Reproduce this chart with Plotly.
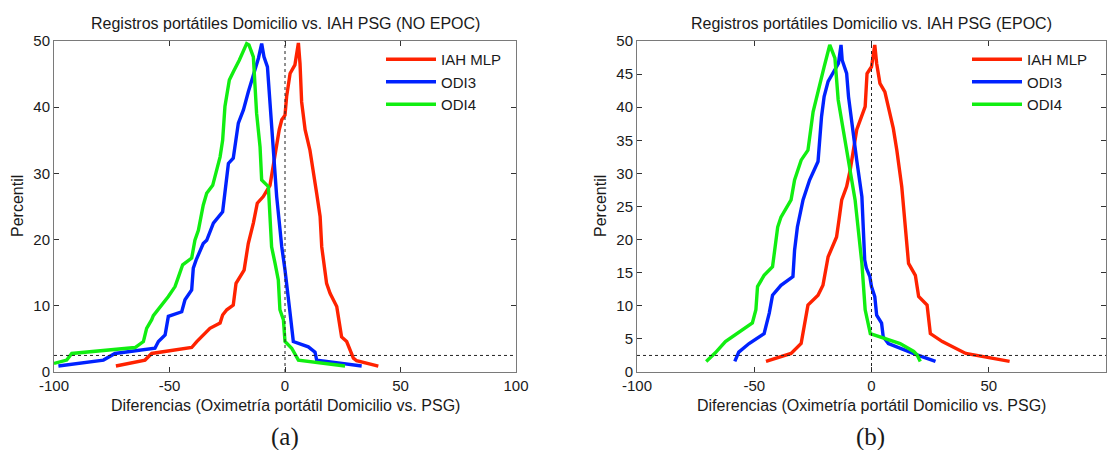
import plotly.graph_objects as go

# ---- Panel (a): NO EPOC ----
a_mlp_x = [-73.2, -60.6, -57.7, -40.4, -38.2, -32.5, -28.1, -27.0, -25.2, -22.4, -21.2, -19.5, -17.7,
           -15.9, -13.7, -12.0, -9.4, -6.5, -5.1, -2.5, -1.4, 0.0, 0.7, 2.2, 4.3, 5.8, 6.5, 7.2, 8.7,
           10.8, 13.7, 15.2, 15.9, 18.0, 19.5, 22.4, 24.5, 26.7, 29.6, 31.0, 40.4]
a_mlp_y = [0.9, 1.8, 2.8, 3.7, 4.6, 6.6, 7.4, 8.6, 9.4, 10.1, 13.4, 14.4, 15.4,
           19.4, 22.5, 25.5, 26.5, 28.2, 31.3, 36.6, 38.1, 38.8, 41.6, 45.1, 46.4, 49.7, 46.6, 40.8, 36.6,
           33.5, 27.0, 23.5, 18.9, 13.4, 11.9, 9.9, 5.3, 4.6, 2.1, 1.7, 0.9]

a_odi3_x = [-98.1, -78.6, -73.6, -56.3, -54.8, -51.9, -50.5, -44.7, -43.3, -40.4, -39.7, -38.5, -35.4,
            -33.9, -31.0, -27.0, -24.5, -22.4, -20.2, -18.0, -15.9, -11.5, -10.1, -9.1, -7.6, -5.8,
            -3.6, -1.4, 0.0, 2.2, 3.6, 10.1, 13.0, 13.7, 33.2]
a_odi3_y = [0.9, 1.8, 2.8, 3.6, 4.6, 5.6, 8.4, 9.1, 10.9, 12.4, 15.7, 16.9, 19.4,
            19.9, 22.5, 24.2, 31.5, 32.3, 37.6, 39.6, 42.3, 47.4, 49.6, 47.6, 46.1, 36.6,
            26.5, 18.9, 15.4, 8.9, 4.6, 3.8, 3.0, 1.8, 0.9]

a_odi4_x = [-100.0, -94.5, -92.3, -64.9, -61.3, -59.9, -57.7, -57.0, -50.5, -47.6, -46.2, -44.3, -40.4,
            -39.0, -37.5, -35.4, -33.9, -31.3, -28.1, -27.0, -26.0, -24.1, -22.3, -19.8, -16.6, -15.6,
            -13.7, -12.3, -10.8, -10.1, -7.2, -5.8, -4.3, -2.9, -2.2, -0.7, 0.0, 2.9, 5.8, 26.0]
a_odi4_y = [1.3, 1.8, 2.8, 3.7, 4.6, 6.6, 7.9, 8.5, 11.4, 12.9, 14.3, 16.2, 17.2,
            19.9, 21.4, 25.2, 27.0, 28.2, 32.5, 35.0, 40.1, 44.1, 45.4, 47.1, 49.6, 49.4,
            47.6, 39.1, 34.0, 29.0, 28.0, 18.9, 16.4, 13.9, 9.4, 7.9, 4.6, 3.6, 1.8, 0.9]

# ---- Panel (b): EPOC ----
b_mlp_x = [-45.0, -34.3, -30.0, -28.9, -27.1, -22.8, -20.7, -18.5, -14.9, -13.9, -12.7, -10.6, -9.1,
           -6.3, -4.8, -2.7, -1.9, 0.0, 1.4, 2.2, 3.6, 5.7, 9.3, 10.8, 12.9, 14.4, 15.8, 18.7, 20.1,
           23.7, 25.1, 30.2, 40.2, 58.9]
b_mlp_y = [1.6, 2.8, 4.3, 6.3, 10.1, 11.6, 13.1, 17.4, 20.4, 22.9, 26.0, 28.0, 30.5,
           36.6, 38.1, 40.1, 45.1, 46.1, 49.4, 46.6, 43.6, 42.3, 36.8, 33.5, 28.0, 22.5, 16.4, 14.6, 11.4,
           10.1, 5.8, 4.6, 2.8, 1.6]

b_odi3_x = [-58.3, -56.6, -52.2, -45.8, -43.6, -42.2, -38.6, -33.5, -32.8, -31.6, -29.2, -26.4, -22.8,
            -21.3, -20.2, -18.5, -14.1, -13.0, -12.5, -10.6, -9.8, -8.4, -6.3, -4.1, -2.9, -2.2,
            -0.7, 0.0, 1.4, 2.2, 4.3, 5.0, 7.2, 19.4, 27.3]
b_odi3_y = [1.6, 3.0, 4.3, 5.8, 8.9, 11.6, 13.1, 14.4, 18.4, 21.9, 26.0, 29.0, 31.8,
            38.6, 41.6, 43.9, 46.6, 49.4, 47.1, 45.1, 41.6, 37.6, 32.0, 26.5, 16.9, 15.7,
            14.4, 12.9, 11.4, 8.6, 7.4, 5.3, 4.3, 2.6, 1.6]

b_odi4_x = [-70.5, -66.6, -62.3, -50.8, -49.3, -48.6, -45.8, -42.2, -40.0, -38.6, -34.3, -32.8, -30.0,
            -27.1, -24.9, -22.1, -20.2, -17.8, -15.6, -14.2, -12.0, -9.8, -7.0, -4.1, -2.7, -0.5,
            12.2, 18.0, 19.4, 20.8]
b_odi4_y = [1.6, 2.9, 4.6, 7.4, 9.4, 12.9, 14.6, 15.9, 21.9, 23.4, 26.0, 29.0, 32.0,
            33.5, 39.3, 43.6, 46.1, 49.4, 47.4, 41.1, 36.6, 32.0, 26.0, 16.4, 9.4, 5.8,
            4.3, 3.1, 2.6, 1.6]

series_names = ["IAH MLP", "ODI3", "ODI4"]
series_colors = ["#ff2200", "#0022ff", "#11ee11"]

titles = ["Registros portátiles Domicilio vs. IAH PSG (NO EPOC)",
          "Registros portátiles Domicilio vs. IAH PSG (EPOC)"]
x_title = "Diferencias (Oximetría portátil Domicilio vs. PSG)"
y_title = "Percentil"
panel_tags = ["(a)", "(b)"]

x_ticks = [-100, -50, 0, 50, 100]
x_tick_text = ["-100", "-50", "0", "50", "100"]
y_ticks_a = [0, 10, 20, 30, 40, 50]
y_ticks_b = [0, 5, 10, 15, 20, 25, 30, 35, 40, 45, 50]

W, H = 1118, 450
FONT = "Liberation Sans, Arial, sans-serif"

fig = go.Figure()

panels = [
    ("x", "y", "legend", [(a_mlp_x, a_mlp_y), (a_odi3_x, a_odi3_y), (a_odi4_x, a_odi4_y)]),
    ("x2", "y2", "legend2", [(b_mlp_x, b_mlp_y), (b_odi3_x, b_odi3_y), (b_odi4_x, b_odi4_y)]),
]
for xa, ya, leg, data in panels:
    for (xs, ys), name, col in zip(data, series_names, series_colors):
        fig.add_trace(go.Scatter(x=xs, y=ys, mode="lines", name=name, xaxis=xa, yaxis=ya,
                                 legend=leg, line=dict(color=col, width=3.4)))

# axis boxes in pixel positions
box_a = (54, 516)
box_b = (637, 1106)
top_px, bot_px = 41, 372
ydom = [(H - bot_px) / H, (H - top_px) / H]

axis_common = dict(showgrid=False, zeroline=False, showline=True, linecolor="#7a7a7a",
                   linewidth=1, mirror="allticks", ticks="inside", ticklen=5,
                   tickcolor="#333333", tickfont=dict(family=FONT, size=15, color="#1a1a1a"),
                   automargin=False)

legend_common = dict(yanchor="top", xanchor="left", bgcolor="rgba(0,0,0,0)",
                     font=dict(family=FONT, size=15, color="#1a1a1a"), itemwidth=50,
                     tracegroupgap=0)

fig.update_layout(
    width=W, height=H,
    margin=dict(l=0, r=0, t=0, b=0),
    paper_bgcolor="white", plot_bgcolor="white",
    showlegend=True,
    xaxis=dict(domain=[box_a[0] / W, box_a[1] / W], range=[-100, 100], tickvals=x_ticks,
               ticktext=x_tick_text, anchor="y", **axis_common),
    yaxis=dict(domain=ydom, range=[0, 50], tickvals=y_ticks_a, anchor="x", **axis_common),
    xaxis2=dict(domain=[box_b[0] / W, box_b[1] / W], range=[-100, 100], tickvals=x_ticks,
                ticktext=x_tick_text, anchor="y2", **axis_common),
    yaxis2=dict(domain=ydom, range=[0, 50], tickvals=y_ticks_b, anchor="x2", **axis_common),
    legend=dict(x=381 / W, y=1 - 43 / H, **legend_common),
    legend2=dict(x=967 / W, y=1 - 43 / H, **legend_common),
)

# dotted reference lines at zero difference and the 2.5 percentile
for xr, yr in (("x", "y"), ("x2", "y2")):
    fig.add_shape(type="line", xref=xr, yref=yr, x0=0, x1=0, y0=0, y1=50,
                  line=dict(color="#222222", width=1, dash="dot"))
    fig.add_shape(type="line", xref=xr, yref=yr, x0=-100, x1=100, y0=2.5, y1=2.5,
                  line=dict(color="#222222", width=1, dash="dot"))

def ann(text, xpx, ypx, size, family=FONT, angle=0):
    fig.add_annotation(text=text, x=xpx / W, y=1 - ypx / H, xref="paper", yref="paper",
                       showarrow=False, xanchor="center", yanchor="middle", textangle=angle,
                       font=dict(family=family, size=size, color="#1a1a1a"))

centers = [(box_a[0] + box_a[1]) / 2, (box_b[0] + box_b[1]) / 2]
ylab_x = [17, 600]
for i in range(2):
    ann(titles[i], centers[i], 23, 16)
    ann(x_title, centers[i], 405, 16)
    ann(y_title, ylab_x[i], 206, 16, angle=-90)
    ann(panel_tags[i], 285 if i == 0 else 870, 437, 25, family="Liberation Serif, Times New Roman, serif")

fig.write_html("out.html")
